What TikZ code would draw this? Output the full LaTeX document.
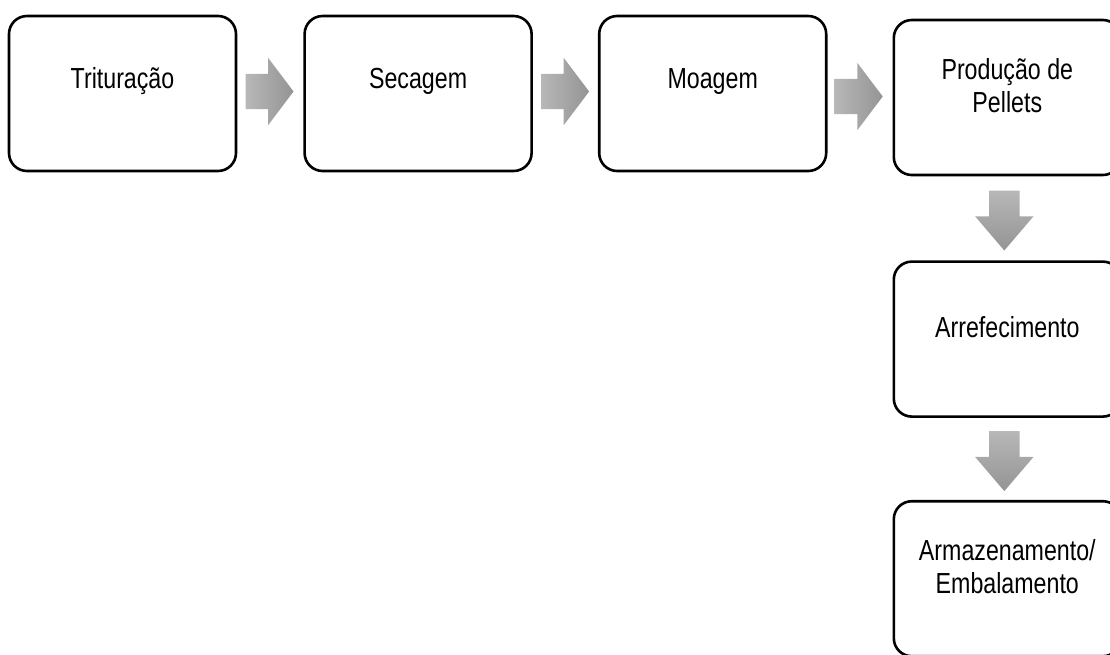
\documentclass[tikz,border=0pt]{standalone}
\usepackage{fontspec}
\setmainfont[FakeStretch=0.8]{Liberation Sans}
\usetikzlibrary{shapes.arrows, positioning, calc}

\begin{document}
\begin{tikzpicture}[
    x=1pt, y=1pt,
    node distance=84pt and 66pt,
    stage/.style={
        rectangle, draw=black, line width=2.6pt, fill=white,
        rounded corners=18pt, minimum width=227pt, minimum height=155pt,
        inner sep=0pt
    },
    txt/.style={font=\fontsize{29}{33}\selectfont, align=center, yshift=12pt},
    flow/.style={
        single arrow, draw=none, inner xsep=0pt, inner ysep=17.5pt,
        single arrow head extend=16pt, single arrow tip angle=106,
        minimum height=48pt, anchor=tail,
        left color=black!28, right color=black!42
    },
    flowdown/.style={
        single arrow, draw=none, inner sep=15pt, shape border rotate=270,
        single arrow head extend=14pt, single arrow tip angle=81,
        minimum height=60pt, anchor=tail,
        top color=black!28, bottom color=black!42
    }
]
    \useasboundingbox (0,0) rectangle (1110,-654);
    \clip (0,0) rectangle (1110,-654);

    %% --- Top row ---
    \node[stage, label={[txt]center:Trituração}] (trit) at (122.5,-93.5) {};
    \node[stage, right=of trit, label={[txt]center:Secagem}] (sec) {};
    \node[stage, right=65pt of sec, label={[txt]center:Moagem}] (moag) {};
    \node[stage, right=65pt of moag, yshift=-4pt,
          label={[txt]center:Produção de\\Pellets}] (prod) {};

    %% --- Right column ---
    \node[stage, below=of prod, label={[txt]center:Arrefecimento}] (arref) {};
    \node[stage, below=82pt of arref,
          label={[txt]center:Armazenamento/\\Embalamento}] (armaz) {};

    %% --- Arrows ---
    \node[flow] (f1) at ([xshift=8pt, yshift=2pt]trit.east) {};
    \node[flow] (f2) at ([xshift=8pt, yshift=2pt]sec.east) {};
    \node[flow] (f3) at ([xshift=7pt, yshift=-3pt]moag.east) {};
    \node[flowdown] (f4) at ([xshift=-3pt, yshift=-14pt]prod.south) {};
    \node[flowdown] (f5) at ([xshift=-3pt, yshift=-13pt]arref.south) {};
\end{tikzpicture}
\end{document}
